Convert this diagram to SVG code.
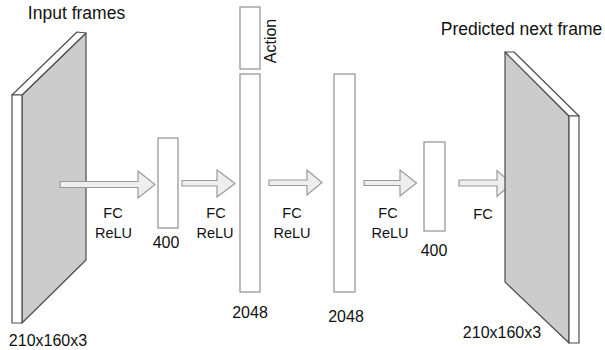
<svg xmlns="http://www.w3.org/2000/svg" width="605" height="350" viewBox="0 0 605 350">
<style>
text{font-family:"Liberation Sans",Arial,sans-serif;fill:#111}
.title{font-size:17.5px}
.num{font-size:16px;text-anchor:middle}
.lbl{font-size:14.5px;text-anchor:middle}
.box{fill:#fff;stroke:#8f8f8f;stroke-width:1.2}
.face{fill:#cccccc;stroke:#4d4d4d;stroke-width:1.2;stroke-linejoin:round}
.edge{fill:#fff;stroke:#4d4d4d;stroke-width:1.2;stroke-linejoin:round}
.arrow{fill:#eeeeee;stroke:#9a9a9a;stroke-width:1.2;stroke-linejoin:miter}
</style>
<rect width="605" height="350" fill="#fff"/>
<g id="input-frames">
  <polygon class="face" points="22,95 86,33 86,260 22,323"/>
  <polygon class="edge" points="12,95 77,32 86,33 22,95"/>
  <rect class="edge" x="12" y="95" width="10" height="228"/>
  <text class="title" x="76.5" y="19" text-anchor="middle">Input frames</text>
  <text class="num" x="48" y="346">210x160x3</text>
</g>
<g id="fc400a">
  <rect class="box" x="158" y="138" width="20" height="90"/>
  <text class="num" x="166" y="248">400</text>
</g>
<g id="action">
  <rect class="box" x="240" y="7" width="20" height="62"/>
  <text class="num" transform="translate(276,41) rotate(-90)">Action</text>
</g>
<g id="fc2048a">
  <rect class="box" x="240" y="74" width="20" height="218"/>
  <text class="num" x="250" y="318">2048</text>
</g>
<g id="fc2048b">
  <rect class="box" x="334" y="74" width="21" height="218"/>
  <text class="num" x="346" y="322">2048</text>
</g>
<g id="fc400b">
  <rect class="box" x="424" y="142" width="21" height="89"/>
  <text class="num" x="434" y="256">400</text>
</g>
<g id="connectors">
  <path class="arrow" d="M60,181.5 H138 V171 L155,184.5 L138,198 V187.5 H60 Z"/>
  <path class="arrow" d="M182,180.5 H217 V170 L235,183.5 L217,197 V186 H182 Z"/>
  <path class="arrow" d="M269,180 H307 V170 L322,182.5 L307,195 V185.5 H269 Z"/>
  <path class="arrow" d="M364,180.5 H400 V170 L416.5,183 L400,196 V185.5 H364 Z"/>
  <path class="arrow" d="M459,180 H497 V170.5 L511.5,183.5 L497,196.5 V186 H459 Z"/>
  <text class="lbl" x="113" y="218">FC</text>
  <text class="lbl" x="113.5" y="238">ReLU</text>
  <text class="lbl" x="216" y="218">FC</text>
  <text class="lbl" x="215" y="238">ReLU</text>
  <text class="lbl" x="292" y="218">FC</text>
  <text class="lbl" x="292" y="238">ReLU</text>
  <text class="lbl" x="388" y="218">FC</text>
  <text class="lbl" x="390" y="238">ReLU</text>
  <text class="lbl" x="483" y="219">FC</text>
</g>
<g id="predicted-frame">
  <polygon class="face" points="505,52 569,116 569,343 505,282"/>
  <polygon class="edge" points="505,52 514,52 579,116 569,116"/>
  <rect class="edge" x="569" y="116" width="10" height="227"/>
  <text class="title" x="521.5" y="35" text-anchor="middle">Predicted next frame</text>
  <text class="num" x="502" y="338">210x160x3</text>
</g>
</svg>
